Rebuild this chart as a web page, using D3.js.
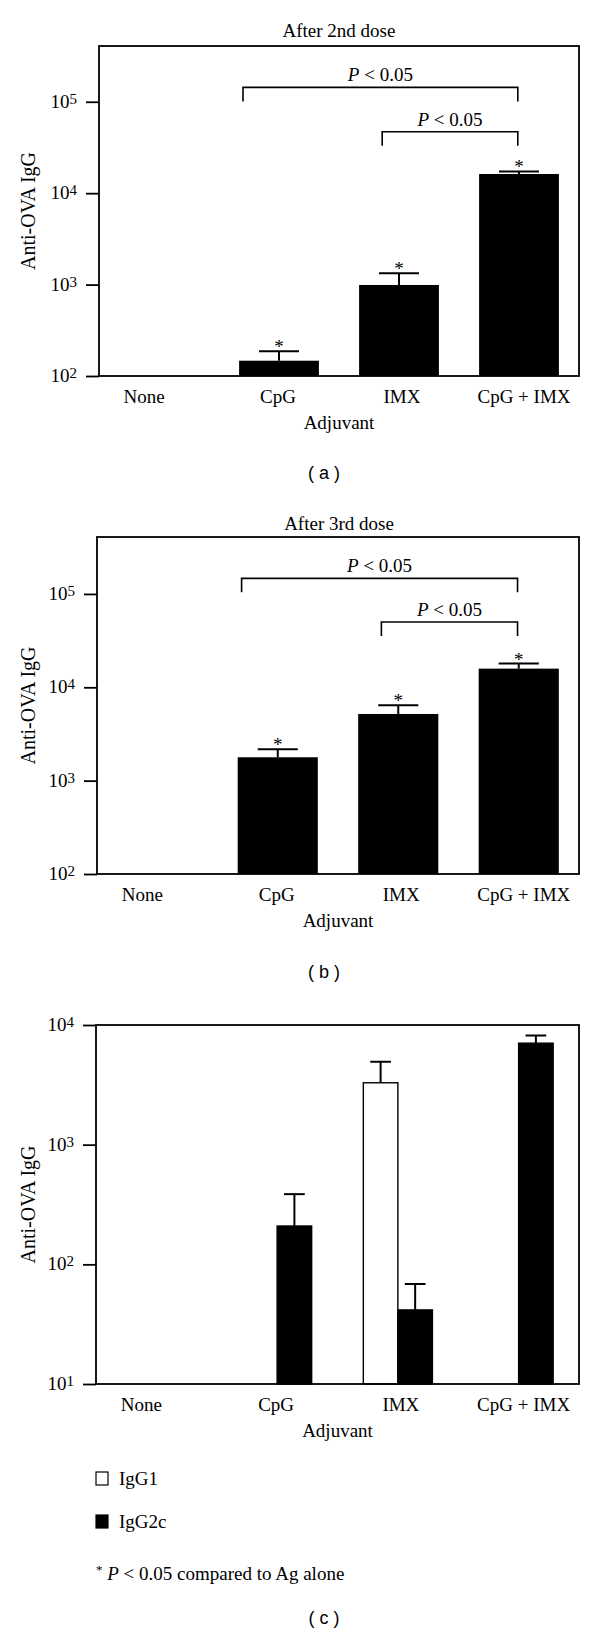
<!DOCTYPE html>
<html>
<head>
<meta charset="utf-8">
<script src="https://cdn.jsdelivr.net/npm/d3@7"></script>
<style>
  html, body { margin: 0; padding: 0; background: #fff; }
  svg { display: block; }
  text { font-family: "Liberation Serif", "DejaVu Serif", serif; fill: #000; }
</style>
</head>
<body>
<svg id="chart" width="600" height="1634"></svg>
<script>
// ---------- data ----------
const categories = ["None", "CpG", "IMX", "CpG + IMX"];

const dose2Mean  = [null, 147, 990, 16200];
const dose2Upper = [null, 186, 1330, 17300];
const dose2Star  = [false, true, true, true];

const dose3Mean  = [null, 1780, 5180, 15850];
const dose3Upper = [null, 2170, 6410, 17950];
const dose3Star  = [false, true, true, true];

const igg1Mean   = [null, null, 3290, null];
const igg1Upper  = [null, null, 4930, null];
const igg2cMean  = [null, 209, 41.6, 7050];
const igg2cUpper = [null, 386, 68.5, 8170];

const ticksAB = [1e2, 1e3, 1e4, 1e5];
const ticksC  = [1e1, 1e2, 1e3, 1e4];
const domainAB = [1e2, Math.pow(10, 5.61)];
const domainC  = [1e1, 1e4];

const dose2Brackets = [
  { from: "CpG", to: "CpG + IMX", level: 143600 },
  { from: "IMX", to: "CpG + IMX", level: 47000 }
];
const dose3Brackets = [
  { from: "CpG", to: "CpG + IMX", level: 147000 },
  { from: "IMX", to: "CpG + IMX", level: 50100 }
];
const bracketLabel = ["P", " < 0.05"];
const seriesNames = ["IgG1", "IgG2c"];
const yTitle = "Anti-OVA IgG";
const xTitle = "Adjuvant";

// ---------- drawing ----------
const svg = d3.select("#chart");
const serifSize = 19;
const labelShift = [-15, -1, 3, 5];

function panel(opts) {
  const { left, right, top, bottom, domain, ticks } = opts;
  const g = svg.append("g");
  const x = d3.scaleBand().domain(categories).range([left, right]).padding(0);
  const y = d3.scaleLog().domain(domain).range([bottom, top]);

  // y ticks
  const axis = d3.axisLeft(y).tickValues(ticks).tickSize(13).tickFormat("");
  const ag = g.append("g").attr("transform", `translate(${left},0)`).call(axis);
  ag.select(".domain").remove();
  ag.selectAll(".tick line").attr("stroke", "#000").attr("stroke-width", 1.8);
  ticks.forEach(t => {
    const e = Math.round(Math.log10(t));
    const tx = g.append("text")
      .attr("x", left - 22).attr("y", y(t) + 6)
      .attr("text-anchor", "end")
      .style("font-size", serifSize + "px");
    tx.append("tspan").text("10");
    tx.append("tspan").attr("dy", -4).style("font-size", "15px").text(String(e));
  });

  // y title
  g.append("text")
    .attr("transform", `translate(35,${(top + bottom) / 2}) rotate(-90)`)
    .attr("text-anchor", "middle")
    .style("font-size", "20px")
    .text(yTitle);

  // x category labels
  g.selectAll("text.cat").data(categories).enter().append("text")
    .attr("class", "cat")
    .attr("x", (d, i) => x(d) + x.bandwidth() / 2 + labelShift[i])
    .attr("y", bottom + 27)
    .attr("text-anchor", "middle")
    .style("font-size", serifSize + "px")
    .text(d => d);

  // x title
  g.append("text")
    .attr("x", (left + right) / 2).attr("y", bottom + 53)
    .attr("text-anchor", "middle")
    .style("font-size", serifSize + "px")
    .text(xTitle);

  return { g, x, y, left, right, top, bottom };
}

function frame(p) {
  p.g.append("rect")
    .attr("x", p.left).attr("y", p.top)
    .attr("width", p.right - p.left).attr("height", p.bottom - p.top)
    .attr("fill", "none").attr("stroke", "#000").attr("stroke-width", 1.8);
}

function singleBars(p, means, uppers, stars) {
  const { g, x, y, bottom } = p;
  const bw = x.bandwidth() * 0.665;
  const cap = bw * 0.5;
  const rows = categories.map((c, i) => ({ c, m: means[i], u: uppers[i], s: stars[i] }))
    .filter(d => d.m != null);
  g.selectAll("rect.bar").data(rows).enter().append("rect")
    .attr("class", "bar")
    .attr("x", d => x(d.c) + x.bandwidth() / 2 - bw / 2)
    .attr("y", d => y(d.m))
    .attr("width", bw)
    .attr("height", d => bottom - y(d.m))
    .attr("fill", "#000");
  rows.forEach(d => {
    const cx = x(d.c) + x.bandwidth() / 2;
    g.append("line").attr("x1", cx).attr("x2", cx).attr("y1", y(d.m)).attr("y2", y(d.u))
      .attr("stroke", "#000").attr("stroke-width", 2);
    g.append("line").attr("x1", cx - cap / 2).attr("x2", cx + cap / 2).attr("y1", y(d.u)).attr("y2", y(d.u))
      .attr("stroke", "#000").attr("stroke-width", 2);
    if (d.s) {
      g.append("text").attr("x", cx).attr("y", y(d.u) + 2)
        .attr("text-anchor", "middle").style("font-size", serifSize + "px").text("*");
    }
  });
}

function brackets(p, list) {
  const { g, x, y } = p;
  const step = x.step();
  const offs = [-0.3, -0.14];
  list.forEach((b, i) => {
    const x1 = x(b.from) + x.bandwidth() / 2 + offs[i] * step;
    const x2 = x(b.to) + x.bandwidth() / 2 - 0.01 * step;
    const yy = y(b.level);
    g.append("path")
      .attr("d", `M${x1},${yy + 14}V${yy}H${x2}V${yy + 14}`)
      .attr("fill", "none").attr("stroke", "#000").attr("stroke-width", 1.6);
    const t = g.append("text").attr("x", (x1 + x2) / 2).attr("y", yy - 6)
      .attr("text-anchor", "middle").style("font-size", serifSize + "px");
    t.append("tspan").style("font-style", "italic").text(bracketLabel[0]);
    t.append("tspan").text(bracketLabel[1]);
  });
}

function panelTitle(text, x, yb) {
  svg.append("text").attr("x", x).attr("y", yb).attr("text-anchor", "middle")
    .style("font-size", serifSize + "px").text(text);
}
function panelLetter(letter, yb) {
  svg.append("text").attr("x", 324).attr("y", yb).attr("text-anchor", "middle")
    .style("font-family", "'Liberation Sans', Arial, sans-serif")
    .style("font-size", "18px").text(`( ${letter} )`);
}

// Panel A
panelTitle("After 2nd dose", 339, 37);
const pA = panel({ left: 99, right: 579, top: 46, bottom: 376, domain: domainAB, ticks: ticksAB });
singleBars(pA, dose2Mean, dose2Upper, dose2Star);
brackets(pA, dose2Brackets);
frame(pA);
panelLetter("a", 479);

// Panel B
panelTitle("After 3rd dose", 339, 530);
const pB = panel({ left: 97, right: 579, top: 537, bottom: 874, domain: domainAB, ticks: ticksAB });
singleBars(pB, dose3Mean, dose3Upper, dose3Star);
brackets(pB, dose3Brackets);
frame(pB);
panelLetter("b", 978);

// Panel C
const pC = panel({ left: 96, right: 579, top: 1025, bottom: 1384, domain: domainC, ticks: ticksC });
(function () {
  const { g, x, y, bottom } = pC;
  const bw = x.step() * 0.286;
  const cap = bw * 0.6;
  const series = [
    { means: igg1Mean, uppers: igg1Upper, fill: "#fff", side: -1 },
    { means: igg2cMean, uppers: igg2cUpper, fill: "#000", side: 0 }
  ];
  series.forEach(s => {
    categories.forEach((c, i) => {
      const m = s.means[i];
      if (m == null) return;
      const cx0 = x(c) + x.bandwidth() / 2;
      const bx = cx0 + s.side * bw;
      g.append("rect").attr("x", bx).attr("y", y(m)).attr("width", bw).attr("height", bottom - y(m))
        .attr("fill", s.fill).attr("stroke", "#000").attr("stroke-width", 1.4);
      const cx = bx + bw / 2;
      const u = s.uppers[i];
      g.append("line").attr("x1", cx).attr("x2", cx).attr("y1", y(m)).attr("y2", y(u))
        .attr("stroke", "#000").attr("stroke-width", 2);
      g.append("line").attr("x1", cx - cap / 2).attr("x2", cx + cap / 2).attr("y1", y(u)).attr("y2", y(u))
        .attr("stroke", "#000").attr("stroke-width", 2);
    });
  });
  frame(pC);

  // legend
  const leg = svg.append("g");
  const fills = ["#fff", "#000"];
  const ys = [1472, 1515];
  seriesNames.forEach((n, i) => {
    leg.append("rect").attr("x", 96).attr("y", ys[i]).attr("width", 12).attr("height", 13)
      .attr("fill", fills[i]).attr("stroke", "#000").attr("stroke-width", 1.2);
    leg.append("text").attr("x", 119).attr("y", ys[i] + 13)
      .style("font-size", serifSize + "px").text(n);
  });
  const fn = leg.append("text").attr("x", 96).attr("y", 1580).style("font-size", serifSize + "px");
  fn.append("tspan").attr("dy", -6).style("font-size", "13px").text("*");
  fn.append("tspan").attr("dy", 6).text(" ");
  fn.append("tspan").style("font-style", "italic").text("P");
  fn.append("tspan").text(" < 0.05 compared to Ag alone");
})();
panelLetter("c", 1624);
</script>
</body>
</html>
